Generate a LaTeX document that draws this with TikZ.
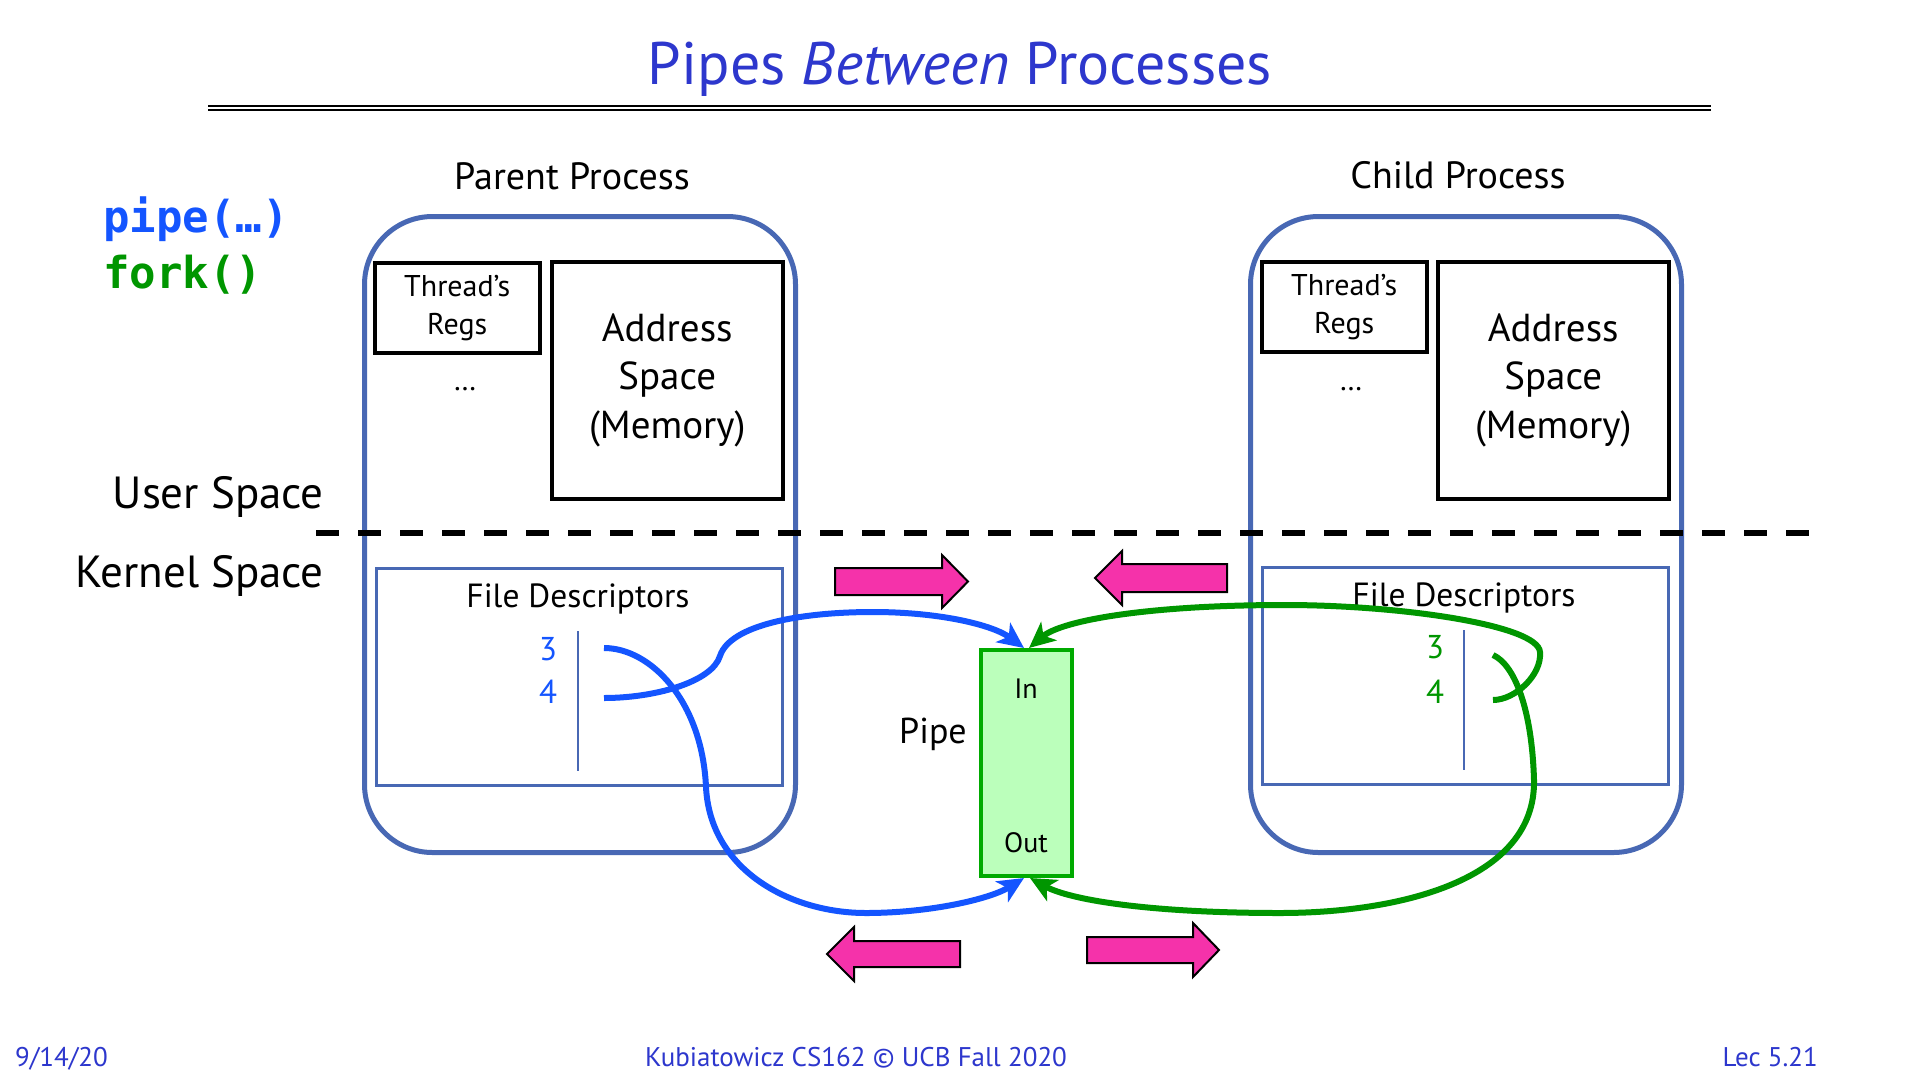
\documentclass[tikz,border=0pt]{standalone}
\usepackage{fontspec}
\setmainfont{PT Sans}
\setmonofont{DejaVu Sans Mono}
\usetikzlibrary{arrows.meta}
\definecolor{titleblue}{RGB}{45,55,205}
\definecolor{boxblue}{RGB}{72,104,180}
\definecolor{fdblue}{RGB}{20,85,255}
\definecolor{fdgreen}{RGB}{0,150,0}
\definecolor{pipefill}{RGB}{187,255,187}
\definecolor{pipeedge}{RGB}{0,170,0}
\definecolor{pinkfill}{RGB}{245,50,170}
\newcommand{\fsz}[2]{\fontsize{#1}{#2}\selectfont}
\begin{document}
\begin{tikzpicture}[x=1pt,y=-1pt,
  txt/.style={inner sep=0pt},
  procbox/.style={draw=boxblue, line width=5pt, rounded corners=68pt, minimum width=431pt, minimum height=636pt, anchor=north west, inner sep=0pt},
  regbox/.style={draw=black, line width=3.5pt, minimum width=165pt, minimum height=90pt, anchor=north west, inner sep=0pt, align=center, font=\fsz{30}{38}},
  addrbox/.style={draw=black, line width=3.5pt, minimum width=231pt, minimum height=237pt, anchor=north west, inner sep=0pt, align=center, font=\fsz{39}{48.5}},
  fdbox/.style={draw=boxblue, line width=3pt, minimum width=406pt, minimum height=217pt, anchor=north west, inner sep=0pt},
  fdline/.style={draw=boxblue, line width=2pt},
  fdnum/.style={txt, anchor=base, font=\fsz{33}{34}},
  conn/.style={line width=6pt, -{Stealth[length=26pt, width=24pt, inset=7pt]}},
  pinkarrow/.style={fill=pinkfill, draw=black, line width=2pt, line join=miter},
  footer/.style={txt, text=titleblue, font=\fsz{27}{28}},
  code/.style={txt, anchor=base west, font=\ttfamily\bfseries\fsz{44}{46}}
]
\useasboundingbox[fill=white] (0,0) rectangle (1920,1080);

% title
\node[txt, anchor=base, text=titleblue, font=\fsz{60}{62}] (title) at (960,84) {Pipes \textit{Between} Processes};
\draw[line width=2.2pt] (208,105.8) -- (1711,105.8);
\draw[line width=2.2pt] (208,110.2) -- (1711,110.2);

% code
\node[code, text=fdblue] (pipecall) at (103,232) {pipe(…)};
\node[code, text=fdgreen] (forkcall) at (103,288) {fork()};

% space labels
\node[txt, anchor=base east, font=\fsz{45}{47}] (user) at (324,508) {User Space};
\node[txt, anchor=base east, font=\fsz{45}{47}] (kernel) at (324,587) {Kernel Space};

% parent
\node[txt, anchor=base, font=\fsz{38}{40}] (parentlbl) at (572,189) {Parent Process};
\node[procbox] (parent) at (362,214) {};
\node[regbox] (pregs) at (373,261) {Thread’s\\Regs};
\node[txt, anchor=base, font=\fsz{30}{30}] (pdots) at (465,390) {…};
\node[addrbox] (paddr) at (550,260) {Address\\Space\\(Memory)};
\node[fdbox] (pfd) at (375,567) {};
\node[txt, anchor=base, font=\fsz{33.5}{34}] (pfdlbl) at (578,607) {File Descriptors};
\draw[fdline] (578,631) -- (578,771);
\node[fdnum, text=fdblue] (p3) at (548,660) {3};
\node[fdnum, text=fdblue] (p4) at (548,703) {4};

% child
\node[txt, anchor=base, font=\fsz{38}{40}] (childlbl) at (1458,188) {Child Process};
\node[procbox] (child) at (1248,214) {};
\node[regbox] (cregs) at (1260,260) {Thread’s\\Regs};
\node[txt, anchor=base, font=\fsz{30}{30}] (cdots) at (1351,390) {…};
\node[addrbox] (caddr) at (1436,260) {Address\\Space\\(Memory)};
\node[fdbox] (cfd) at (1261,566) {};
\node[txt, anchor=base, font=\fsz{33.5}{34}] (cfdlbl) at (1464,606) {File Descriptors};
\draw[fdline] (1464,630) -- (1464,770);
\node[fdnum, text=fdgreen] (c3) at (1435,658) {3};
\node[fdnum, text=fdgreen] (c4) at (1435,703) {4};

% dashed boundary
\draw[line width=6pt, dash pattern=on 23pt off 19pt] (316,533) -- (1810,533);

% pipe
\node[draw=pipeedge, fill=pipefill, line width=4pt, minimum width=91pt, minimum height=226pt, inner sep=0pt] (pipe) at (1026,763) {};
\node[txt, anchor=base, font=\fsz{28}{30}] (inlbl) at (1026,698) {In};
\node[txt, anchor=base, font=\fsz{28}{30}] (outlbl) at (1026,852) {Out};
\node[txt, anchor=base, font=\fsz{36}{38}] (pipelbl) at (933,743) {Pipe};

% pink arrows
\draw[pinkarrow] (835,568) -- (942,568) -- (942,555) -- (968,581.5) -- (942,608) -- (942,595) -- (835,595) -- cycle;
\draw[pinkarrow] (1227,564) -- (1122,564) -- (1122,551) -- (1095,578) -- (1122,605) -- (1122,592) -- (1227,592) -- cycle;
\draw[pinkarrow] (960,941) -- (854,941) -- (854,927) -- (827,954) -- (854,981) -- (854,967) -- (960,967) -- cycle;
\draw[pinkarrow] (1087,937) -- (1193,937) -- (1193,923) -- (1219,950) -- (1193,977) -- (1193,963) -- (1087,963) -- cycle;

% connectors
\coordinate (pa3) at (604,648);
\coordinate (pa4) at (604,698);
\coordinate (ca3) at (1493,655);
\coordinate (ca4) at (1493,700);

\draw[conn, fdblue] (pa3) .. controls (650,648) and (702,700) .. (706,787)
  .. controls (710,870) and (790,913) .. (866,913)
  .. controls (930,913) and (990,899) .. ([xshift=-2pt]pipe.south);
\draw[conn, fdblue] (pa4) .. controls (655,698) and (712,682) .. (720,656)
  .. controls (730,625) and (800,612) .. (873,612)
  .. controls (940,612) and (993,625) .. ([xshift=-2pt]pipe.north);
\draw[conn, fdgreen] (ca3) .. controls (1515,665) and (1532,710) .. (1534,780)
  .. controls (1536,880) and (1400,913) .. (1280,913)
  .. controls (1150,913) and (1070,900) .. ([xshift=4pt]pipe.south);
\draw[conn, fdgreen] (ca4) .. controls (1515,700) and (1542,675) .. (1540,652)
  .. controls (1538,625) and (1400,605) .. (1285,605)
  .. controls (1150,605) and (1062,620) .. ([xshift=3pt]pipe.north);

% footer
\node[footer, anchor=base west] (date) at (15,1066) {9/14/20};
\node[footer, anchor=base] (credit) at (856,1066) {Kubiatowicz CS162 © UCB Fall 2020};
\node[footer, anchor=base east] (lec) at (1818,1066) {Lec 5.21};
\end{tikzpicture}
\end{document}
